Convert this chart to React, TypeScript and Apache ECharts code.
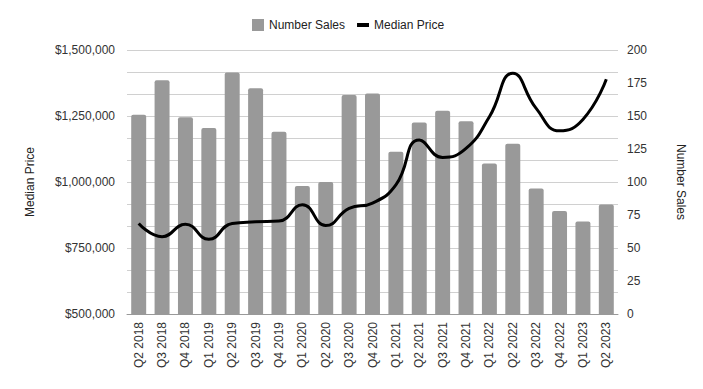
import React, { useEffect, useRef } from "react";
import * as echarts from "echarts";

const categories = [
  "Q2 2018", "Q3 2018", "Q4 2018", "Q1 2019", "Q2 2019", "Q3 2019", "Q4 2019",
  "Q1 2020", "Q2 2020", "Q3 2020", "Q4 2020", "Q1 2021", "Q2 2021", "Q3 2021",
  "Q4 2021", "Q1 2022", "Q2 2022", "Q3 2022", "Q4 2022", "Q1 2023", "Q2 2023",
];

const numberSales = [
  151, 177, 149, 141, 183, 171, 138, 97, 100, 166, 167, 123, 145, 154, 146,
  114, 129, 95, 78, 70, 83,
];

const medianPrice = [
  843000, 793000, 840000, 783000, 843000, 849000, 852000, 914000, 835000, 900000,
  920000, 989000, 1159000, 1093000, 1127000, 1247000, 1412000, 1279000, 1194000,
  1237000, 1389000,
];

const priceTicks = [500000, 1500000, 250000];
const salesTicks = [0, 200, 25];

const fmtMoney = (v: number) => "$" + v.toLocaleString("en-US");

export default function App() {
  const ref = useRef<HTMLDivElement>(null);
  useEffect(() => {
    if (!ref.current) return;
    const chart = echarts.init(ref.current, undefined, { renderer: "svg" });
    const font = "'Liberation Sans', Arial, sans-serif";
    chart.setOption({
      animation: false,
      textStyle: { fontFamily: font },
      legend: {
        top: 14,
        left: 247,
        itemWidth: 12,
        itemHeight: 12,
        itemGap: 12,
        textStyle: { fontSize: 12, color: "#222", fontFamily: font },
        data: [
          { name: "Number Sales", icon: "rect" },
          {
            name: "Median Price",
            icon: "path://M0,4 L12,4 L12,8 L0,8 Z",
          },
        ],
      },
      grid: { left: 127, right: 85, top: 50, bottom: 75 },
      xAxis: {
        type: "category",
        data: categories,
        axisTick: { show: false },
        axisLine: { lineStyle: { color: "#999" } },
        axisLabel: {
          rotate: 90,
          fontSize: 12,
          color: "#333",
          margin: 8,
          interval: 0,
          fontFamily: font,
        },
      },
      yAxis: [
        {
          type: "value",
          min: priceTicks[0],
          max: priceTicks[1],
          interval: priceTicks[2],
          name: "Median Price",
          nameLocation: "middle",
          nameGap: 91,
          nameTextStyle: { fontSize: 12, color: "#222", fontFamily: font },
          axisLabel: {
            formatter: fmtMoney,
            fontSize: 12,
            color: "#333",
            margin: 12,
            fontFamily: font,
          },
          axisLine: { show: false },
          axisTick: { show: false },
          splitLine: { lineStyle: { color: "#d0d0d0", width: 1 } },
          minorTick: { show: false, splitNumber: 3 },
          minorSplitLine: { show: true, lineStyle: { color: "#d0d0d0", width: 1 } },
        },
        {
          type: "value",
          min: salesTicks[0],
          max: salesTicks[1],
          interval: salesTicks[2],
          name: "Number Sales",
          nameLocation: "middle",
          nameGap: 57,
          nameRotate: -90,
          nameTextStyle: { fontSize: 12, color: "#222", fontFamily: font },
          axisLabel: { fontSize: 12, color: "#333", margin: 9, fontFamily: font },
          axisLine: { show: false },
          axisTick: { show: false },
          splitLine: { show: false },
        },
      ],
      series: [
        {
          name: "Number Sales",
          type: "bar",
          yAxisIndex: 1,
          data: numberSales,
          barCategoryGap: "36%",
          itemStyle: { color: "#999999", borderRadius: [2, 2, 0, 0] },
        },
        {
          name: "Median Price",
          type: "line",
          yAxisIndex: 0,
          data: medianPrice,
          smooth: 0.5,
          showSymbol: false,
          symbol: "none",
          lineStyle: { color: "#000", width: 3 },
          itemStyle: { color: "#000" },
        },
      ],
    });
    return () => chart.dispose();
  }, []);
  return <div ref={ref} style={{ width: 703, height: 389, position: "absolute", left: 0, top: 0 }} />;
}
